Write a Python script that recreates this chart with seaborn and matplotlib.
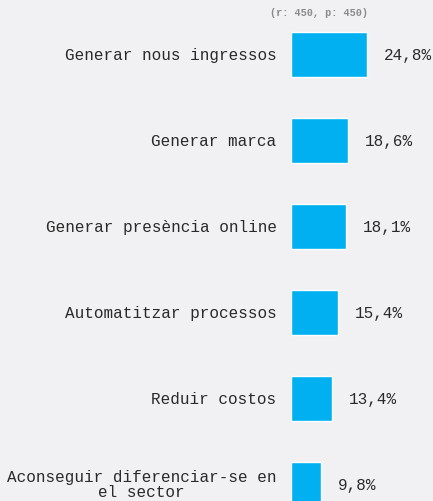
import matplotlib
matplotlib.use("Agg")
import matplotlib.pyplot as plt
import seaborn as sns
import pandas as pd

categories = [
    "Generar nous ingressos",
    "Generar marca",
    "Generar presència online",
    "Automatitzar processos",
    "Reduir costos",
    "Aconseguir diferenciar-se en\nel sector",
]
values = [24.8, 18.6, 18.1, 15.4, 13.4, 9.8]
value_labels = ["24,8%", "18,6%", "18,1%", "15,4%", "13,4%", "9,8%"]
note = "(r: 450, p: 450)"

BG = "#f1f1f4"
BAR = "#00b0f0"
TXT = "#2a2a2a"

sns.set_theme(style="white")
plt.rcParams["font.family"] = ["Liberation Mono", "DejaVu Sans Mono"]

df = pd.DataFrame({"cat": categories, "val": values})

fig = plt.figure(figsize=(4.33, 5.02), dpi=100, facecolor=BG)
ax = fig.add_axes([290.5 / 433, 0, 142.5 / 433, 1])
ax.set_facecolor(BG)

sns.barplot(data=df, x="val", y="cat", color=BAR, width=0.53, saturation=1,
            ax=ax, orient="h")

px_per_unit = 3.065
ax.set_xlim(0, 142.5 / px_per_unit)
ax.set_ylim((502 - 55.5) / 86, -55.5 / 86)
ax.set_xlabel("")
ax.set_ylabel("")
ax.set_xticks([])
ax.set_yticks([])
for s in ax.spines.values():
    s.set_visible(False)

for i, (v, lab) in enumerate(zip(values, value_labels)):
    ax.text(v + 17 / px_per_unit, i, lab, ha="left", va="center",
            fontsize=11.5, color=TXT)
    ax.text(-14 / px_per_unit, i, categories[i], ha="right", va="center",
            fontsize=11.5, color=TXT, multialignment="center",
            linespacing=1.0, clip_on=False)

fig.text(319 / 433, 1 - 13 / 502, note, ha="center", va="center",
         fontsize=7.3, color="#8a8a8a", fontweight="bold")

fig.savefig("out.png", dpi=100, facecolor=BG)
